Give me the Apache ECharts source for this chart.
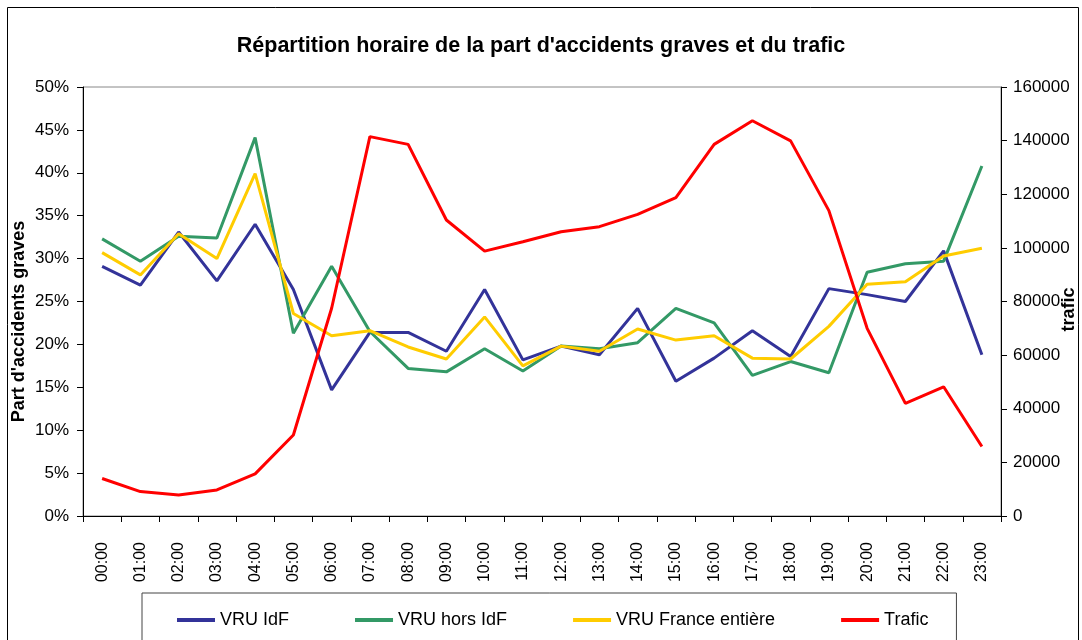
<!DOCTYPE html>
<html>
<head>
<meta charset="utf-8">
<script src="https://cdn.jsdelivr.net/npm/echarts@6/dist/echarts.min.js"></script>
<style>
  html, body { margin: 0; padding: 0; background: #fff; }
  #chart { width: 1082px; height: 640px; }
</style>
</head>
<body>
<div id="chart"></div>
<script>
// heures
const hours = ['00:00', '01:00', '02:00', '03:00', '04:00', '05:00', '06:00', '07:00',
  '08:00', '09:00', '10:00', '11:00', '12:00', '13:00', '14:00', '15:00',
  '16:00', '17:00', '18:00', '19:00', '20:00', '21:00', '22:00', '23:00'];

// part d'accidents graves (%)
const vruIdf = [29.1, 26.9, 33.1, 27.4, 34.0, 26.4, 14.7, 21.4, 21.4, 19.2, 26.4, 18.2,
  19.8, 18.8, 24.2, 15.7, 18.4, 21.6, 18.6, 26.5, 25.8, 25.0, 30.9, 18.8];
const vruHorsIdf = [32.3, 29.7, 32.6, 32.4, 44.1, 21.3, 29.1, 21.5, 17.2, 16.8, 19.5, 16.9,
  19.8, 19.5, 20.2, 24.2, 22.5, 16.4, 18.0, 16.7, 28.4, 29.4, 29.7, 40.8];
const vruFrance = [30.7, 28.1, 32.9, 30.0, 39.9, 23.6, 21.0, 21.6, 19.7, 18.3, 23.2, 17.5,
  19.8, 19.2, 21.8, 20.5, 21.0, 18.4, 18.3, 22.1, 27.0, 27.3, 30.3, 31.2];

// trafic (axe de droite)
const trafic = [14000, 9100, 7800, 9700, 15700, 30200, 77500, 141500, 138600, 110400, 98800, 102300,
  106000, 107900, 112500, 118700, 138600, 147400, 139900, 113900, 70000, 42000, 48200, 25900];

const FONT = '"Liberation Sans", Arial, sans-serif';

const chart = echarts.init(document.getElementById('chart'), null, { renderer: 'canvas' });

function line(name, data, color, axis) {
  return {
    name: name,
    type: 'line',
    yAxisIndex: axis,
    data: data,
    showSymbol: false,
    symbol: 'none',
    animation: false,
    lineStyle: { color: color, width: 3 },
    itemStyle: { color: color }
  };
}

const option = {
  backgroundColor: '#fff',
  animation: false,
  textStyle: { fontFamily: FONT },
  title: {
    text: "Répartition horaire de la part d'accidents graves et du trafic",
    left: 'center',
    top: 30,
    textStyle: { fontFamily: FONT, fontSize: 21.5, fontWeight: 'bold', color: '#000' }
  },
  graphic: [
    {
      type: 'rect',
      silent: true,
      shape: { x: 7.5, y: 7.5, width: 1071, height: 700 },
      style: { fill: 'none', stroke: '#000', lineWidth: 1 }
    }
  ],
  legend: {
    left: 142,
    top: 593,
    padding: [18, 28, 18, 35],
    itemGap: 66,
    itemWidth: 38,
    itemHeight: 4,
    icon: 'rect',
    borderColor: '#444',
    borderWidth: 1,
    textStyle: { fontFamily: FONT, fontSize: 18, color: '#000' },
    data: ['VRU IdF', 'VRU hors IdF', 'VRU France entière', 'Trafic']
  },
  grid: {
    left: 83,
    right: 81,
    top: 87,
    bottom: 124,
    containLabel: false,
    outerBoundsMode: 'none',
    show: true,
    borderColor: '#888',
    borderWidth: 1
  },
  xAxis: {
    type: 'category',
    data: hours,
    boundaryGap: true,
    axisLine: { lineStyle: { color: '#000', width: 1 } },
    axisTick: { show: true, alignWithLabel: false, interval: 0, length: 6, lineStyle: { color: '#000' } },
    axisLabel: { interval: 0, rotate: 90, margin: 26, fontSize: 16, color: '#000', fontFamily: FONT },
    splitLine: { show: false }
  },
  yAxis: [
    {
      type: 'value',
      min: 0,
      max: 50,
      interval: 5,
      name: "Part d'accidents graves",
      nameLocation: 'middle',
      nameGap: 55,
      nameMoveOverlap: false,
      nameTextStyle: { fontFamily: FONT, fontSize: 18, fontWeight: 'bold', color: '#000', padding: [0, 40, 0, 0] },
      axisLine: { show: true, lineStyle: { color: '#000' } },
      axisTick: { show: true, length: 6, lineStyle: { color: '#000' } },
      axisLabel: { formatter: '{value}%', fontSize: 17, color: '#000', margin: 14, fontFamily: FONT },
      splitLine: { show: false }
    },
    {
      type: 'value',
      position: 'right',
      min: 0,
      max: 160000,
      interval: 20000,
      name: 'trafic',
      nameLocation: 'middle',
      nameGap: 59,
      nameMoveOverlap: false,
      nameTextStyle: { fontFamily: FONT, fontSize: 18, fontWeight: 'bold', color: '#000', padding: [0, 16, 0, 0] },
      axisLine: { show: true, lineStyle: { color: '#000' } },
      axisTick: { show: true, length: 6, lineStyle: { color: '#000' } },
      axisLabel: { formatter: (v) => String(v), fontSize: 17, color: '#000', margin: 12, fontFamily: FONT },
      splitLine: { show: false }
    }
  ],
  series: [
    line('VRU IdF', vruIdf, '#333399', 0),
    line('VRU hors IdF', vruHorsIdf, '#339966', 0),
    line('VRU France entière', vruFrance, '#FFCC00', 0),
    line('Trafic', trafic, '#FF0000', 1)
  ]
};

chart.setOption(option);
</script>
</body>
</html>
